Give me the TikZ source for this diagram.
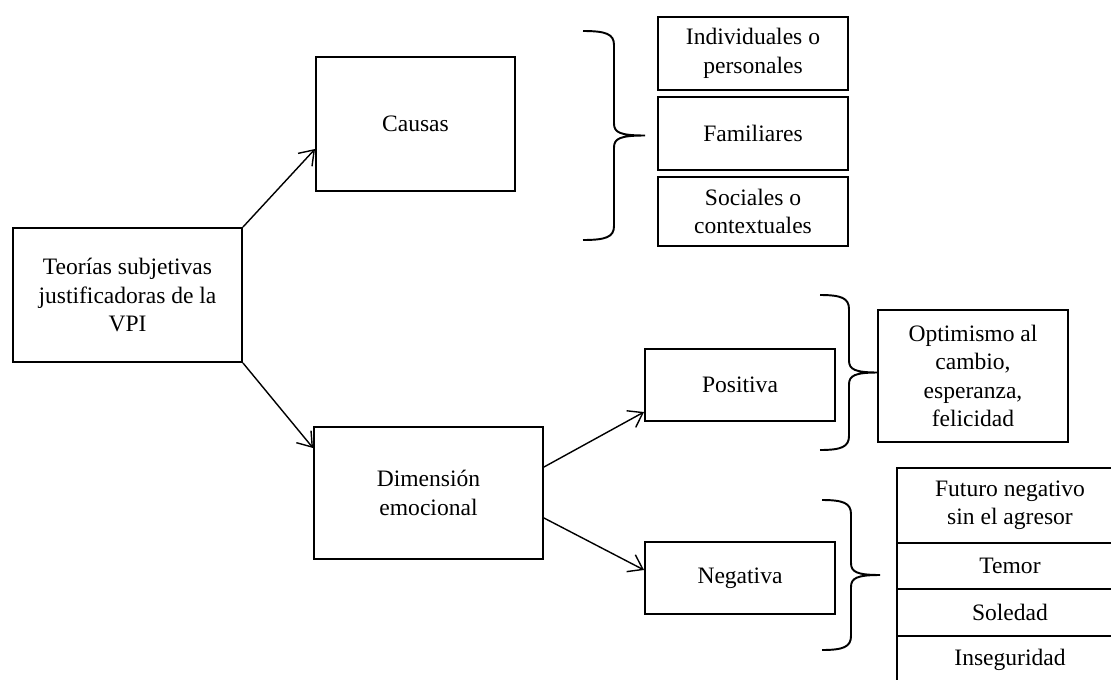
\documentclass[tikz,border=0pt]{standalone}
\usepackage{fontspec}
\setmainfont{Liberation Serif}
\usetikzlibrary{arrows.meta}

% brace opening to the right: left x, top y, bottom y, tip x
\newcommand{\sidebrace}[4]{%
  \pgfmathsetmacro{\bx}{(#1+#4)/2}
  \pgfmathsetmacro{\bm}{(#2+#3)/2}
  \draw[bracestyle] (#1,#2) .. controls (\bx-8,#2) and (\bx,#2+3) .. (\bx,#2+14)
    -- (\bx,\bm-12) .. controls (\bx,\bm-3) and (\bx+6,\bm) .. (#4,\bm)
    .. controls (\bx+6,\bm) and (\bx,\bm+3) .. (\bx,\bm+12)
    -- (\bx,#3-14) .. controls (\bx,#3-3) and (\bx-8,#3) .. (#1,#3);}

\begin{document}
\begin{tikzpicture}[x=0.2mm, y=-0.2mm,
    box/.style={draw, line width=1.1pt, align=center, inner sep=2pt,
      font=\fontsize{13.4}{16.2}\selectfont},
    conn/.style={-{Straight Barb[length=2.7mm,width=3.8mm]}, line width=0.8pt},
    bracestyle/.style={line width=1.1pt}]
    \useasboundingbox (0,0) rectangle (1111,679);
    \clip (0,0) rectangle (1111,679);

    % main boxes
    \node[box, minimum width=4.58cm, minimum height=2.68cm] (teorias) at (127.5,295) {Teorías subjetivas\\justificadoras de la\\VPI};
    \node[box, minimum width=3.98cm, minimum height=2.68cm] (causas) at (415.5,124) {Causas};
    \node[box, minimum width=4.58cm, minimum height=2.64cm] (dimension) at (428.5,493) {Dimensión\\emocional};
    \node[box, minimum width=3.8cm, minimum height=1.44cm] (positiva) at (740,385) {Positiva};
    \node[box, minimum width=3.8cm, minimum height=1.44cm] (negativa) at (740,578) {Negativa};

    % causes
    \node[box, minimum width=3.8cm, minimum height=1.46cm] (individuales) at (753,53.5) {Individuales o\\personales};
    \node[box, minimum width=3.8cm, minimum height=1.46cm] (familiares) at (753,133.5) {Familiares};
    \node[box, minimum width=3.8cm, minimum height=1.38cm] (sociales) at (753,211.5) {Sociales o\\contextuales};

    % emotions
    \node[box, minimum width=3.8cm, minimum height=2.64cm] (optimismo) at (973,376) {Optimismo al\\cambio,\\esperanza,\\felicidad};
    \node[box, minimum width=4.52cm, minimum height=1.5cm] (futuro) at (1010,505.5) {Futuro negativo\\sin el agresor};
    \node[box, minimum width=4.52cm, minimum height=0.92cm] (temor) at (1010,566) {Temor};
    \node[box, minimum width=4.52cm, minimum height=0.94cm] (soledad) at (1010,612.5) {Soledad};
    \node[box, minimum width=4.52cm, minimum height=0.96cm] (inseguridad) at (1010,660) {Inseguridad};

    % arrows
    \draw[conn] (teorias.north east) -- ([yshift=-0.5cm]causas.west);
    \draw[conn] (teorias.south east) -- ([yshift=0.9cm]dimension.west);
    \draw[conn] ([yshift=0.52cm]dimension.east) -- ([yshift=-0.54cm]positiva.west);
    \draw[conn] ([yshift=-0.5cm]dimension.east) -- ([yshift=0.16cm]negativa.west);

    % braces
    \sidebrace{583}{31}{240}{645}
    \sidebrace{820}{295}{450}{878}
    \sidebrace{822}{500}{650}{880}
\end{tikzpicture}
\end{document}
